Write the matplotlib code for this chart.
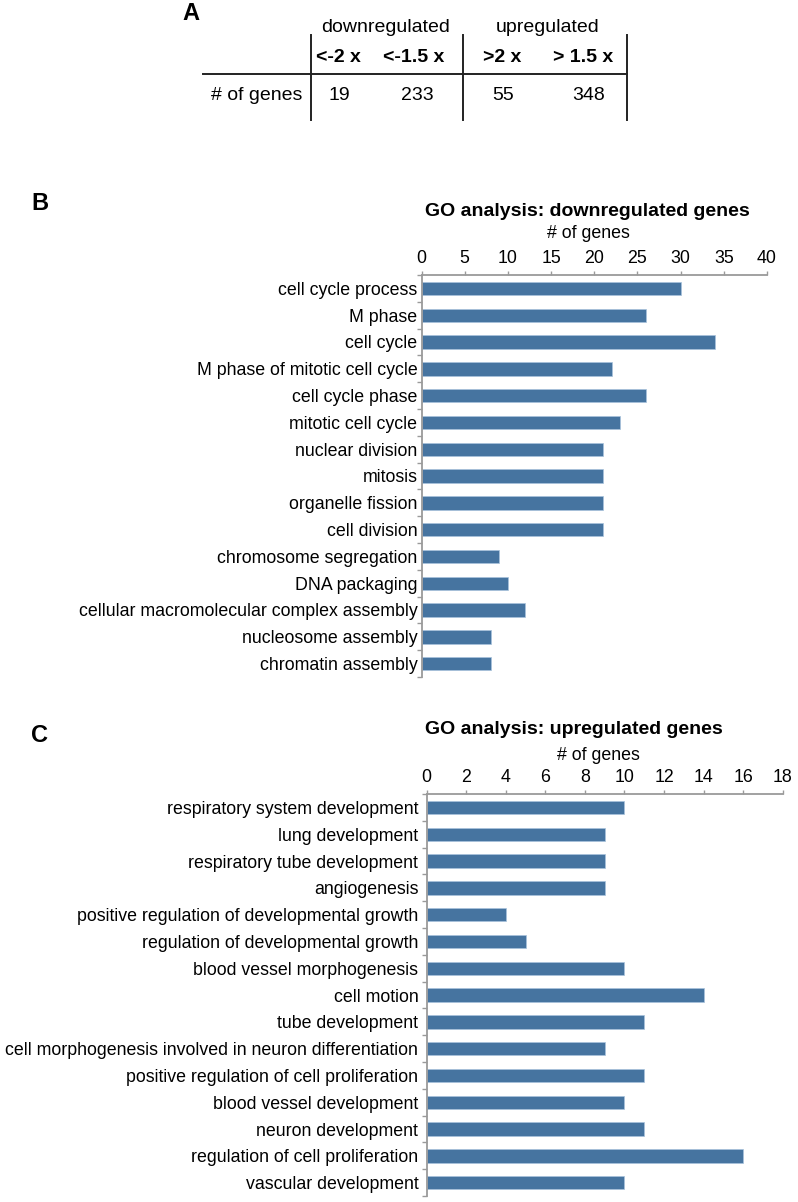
import numpy as np
import matplotlib
matplotlib.use('Agg')
import matplotlib.pyplot as plt

plt.rcParams['font.family'] = ['Liberation Sans', 'DejaVu Sans']

# panel A table
thresholds = ['<-2 x', '<-1.5 x', '>2 x', '> 1.5 x']
gene_counts = [19, 233, 55, 348]
groups = ['downregulated', 'upregulated']

# panel B
down_terms = [
    'cell cycle process', 'M phase', 'cell cycle', 'M phase of mitotic cell cycle',
    'cell cycle phase', 'mitotic cell cycle', 'nuclear division', 'mitosis',
    'organelle fission', 'cell division', 'chromosome segregation', 'DNA packaging',
    'cellular macromolecular complex assembly', 'nucleosome assembly',
    'chromatin assembly',
]
down_counts = [30, 26, 34, 22, 26, 23, 21, 21, 21, 21, 9, 10, 12, 8, 8]
down_ticks = [0, 5, 10, 15, 20, 25, 30, 35, 40]

# panel C
up_terms = [
    'respiratory system development', 'lung development',
    'respiratory tube development', 'angiogenesis',
    'positive regulation of developmental growth',
    'regulation of developmental growth', 'blood vessel morphogenesis',
    'cell motion', 'tube development',
    'cell morphogenesis involved in neuron differentiation',
    'positive regulation of cell proliferation', 'blood vessel development',
    'neuron development', 'regulation of cell proliferation',
    'vascular development',
]
up_counts = [10, 9, 9, 9, 4, 5, 10, 14, 11, 9, 11, 10, 11, 16, 10]
up_ticks = [0, 2, 4, 6, 8, 10, 12, 14, 16, 18]

W, H = 798, 1202
BAR = '#4674a0'
GREY = '#9a9a9a'

fig = plt.figure(figsize=(W / 100, H / 100), dpi=100)

# overlay axes in pixel coordinates for the table and free text
bg = fig.add_axes([0, 0, 1, 1], zorder=-1)
bg.set_xlim(0, W)
bg.set_ylim(H, 0)
bg.axis('off')

# ---- A ----
bg.text(191, 14, 'A', fontsize=17, fontweight='bold', ha='center', va='center')
bg.text(386, 27, groups[0], fontsize=14, ha='center', va='center')
bg.text(548, 27, groups[1], fontsize=14, ha='center', va='center')
col_x = [338, 414, 502, 583]
num_x = [339, 417, 503, 589]
for x, t in zip(col_x, thresholds):
    bg.text(x, 57, t, fontsize=14, fontweight='bold', ha='center', va='center')
for x, c in zip(num_x, gene_counts):
    bg.text(x, 95, str(c), fontsize=14, ha='center', va='center')
bg.text(302, 95, '# of genes', fontsize=14, ha='right', va='center')
bg.plot([203, 627], [74, 74], color='#222222', lw=1.4)
for x in [311, 463, 627]:
    bg.plot([x, x], [35, 120], color='#222222', lw=1.4)


def go_panel(rect, terms, counts, ticks, label_pad):
    ax = fig.add_axes(rect)
    n = len(terms)
    ax.barh(np.arange(n), counts, height=0.5, color=BAR,
            edgecolor='#a8c3dc', linewidth=0.5)
    ax.set_ylim(n - 0.5, -0.5)
    ax.set_xlim(ticks[0], ticks[-1])
    ax.xaxis.tick_top()
    ax.set_xticks(ticks)
    ax.set_yticks(np.arange(n))
    ax.set_yticklabels(terms)
    ax.set_yticks(np.arange(-0.5, n, 1), minor=True)
    ax.tick_params(axis='x', which='major', direction='out', length=3,
                   width=1, color=GREY, labelsize=12.8, pad=2.5)
    ax.tick_params(axis='y', which='major', length=0, labelsize=12.8,
                   pad=label_pad)
    ax.tick_params(axis='y', which='minor', direction='out', length=3.6,
                   width=1, color=GREY)
    for side in ['right', 'bottom']:
        ax.spines[side].set_visible(False)
    for side in ['top', 'left']:
        ax.spines[side].set_color(GREY)
        ax.spines[side].set_linewidth(1.3)
    return ax


# ---- B ----
go_panel([421.5 / W, 1 - 677 / H, 345.5 / W, 402 / H],
         down_terms, down_counts, down_ticks, 3)
bg.text(40, 203, 'B', fontsize=17, fontweight='bold', ha='center', va='center')
bg.text(425, 212, 'GO analysis: downregulated genes', fontsize=14,
        fontweight='bold', ha='left', va='center')
bg.text(588, 234, '# of genes', fontsize=12.8, ha='center', va='center')

# ---- C ----
go_panel([426.7 / W, 1 - 1196 / H, 356 / W, 402 / H],
         up_terms, up_counts, up_ticks, 6)
bg.text(40, 736, 'C', fontsize=17, fontweight='bold', ha='center', va='center')
bg.text(425, 729, 'GO analysis: upregulated genes', fontsize=14,
        fontweight='bold', ha='left', va='center')
bg.text(598, 755, '# of genes', fontsize=12.8, ha='center', va='center')

fig.savefig('out.png', dpi=100)
